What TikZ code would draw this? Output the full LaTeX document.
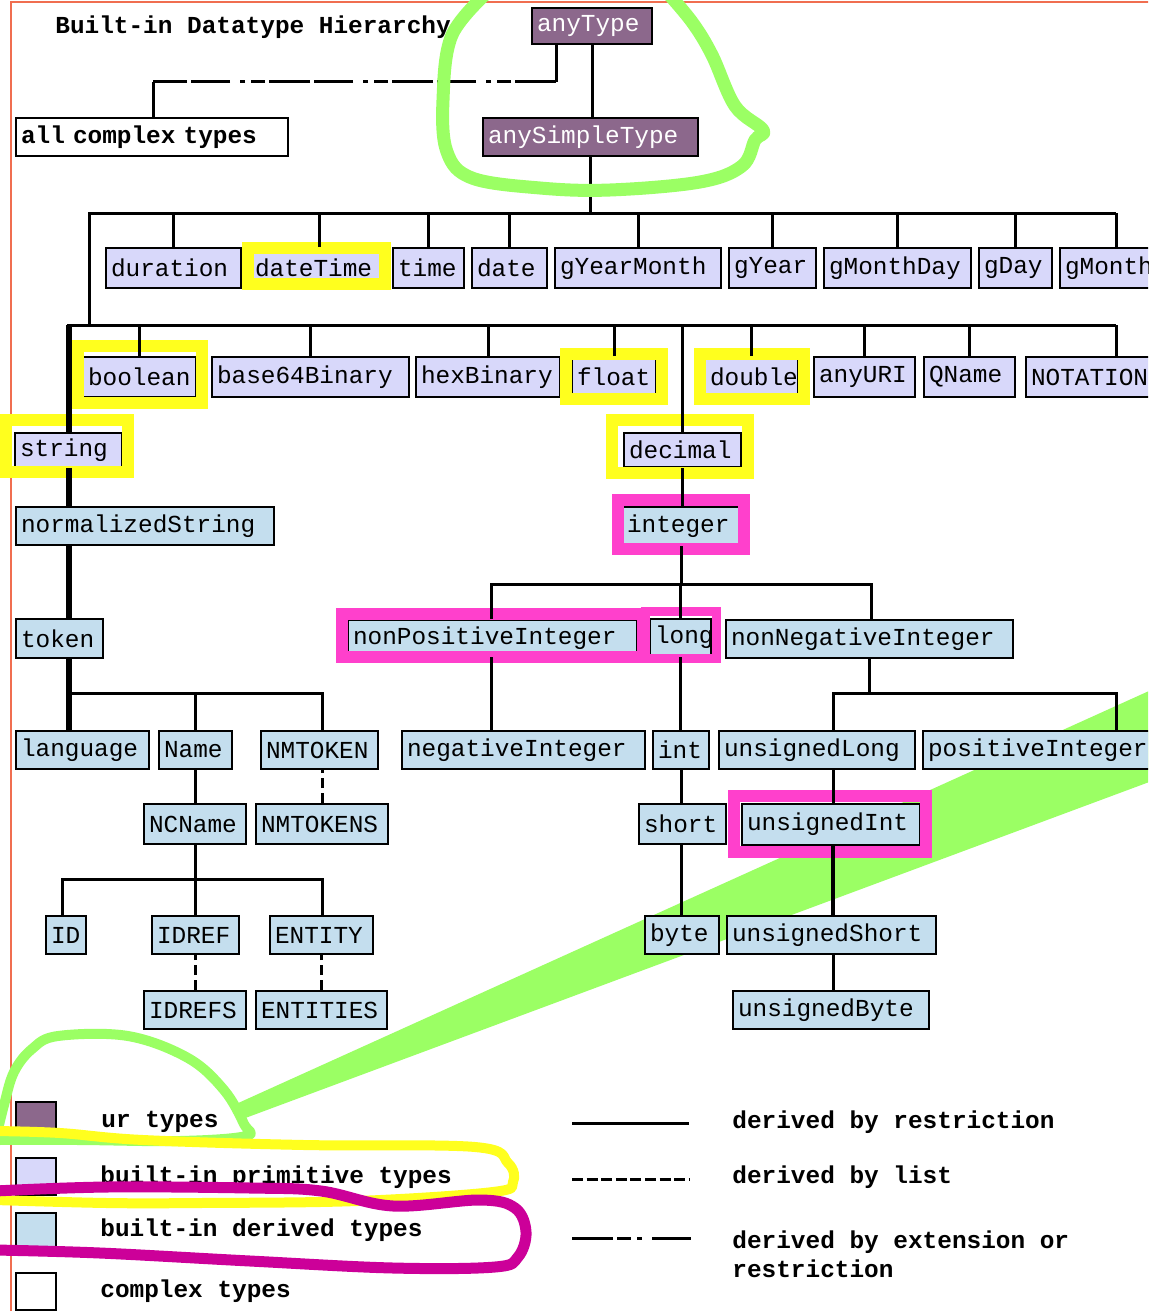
\documentclass[tikz,border=0pt]{standalone}
\usepackage{fontspec}
\newfontfamily\lmono{Liberation Mono}
\usetikzlibrary{calc}
\definecolor{urfill}{RGB}{140,104,140}
\definecolor{primfill}{RGB}{216,216,250}
\definecolor{derfill}{RGB}{196,222,238}
\definecolor{hlyellow}{RGB}{255,255,30}
\definecolor{hlpink}{RGB}{255,64,204}
\definecolor{hlgreen}{RGB}{155,255,100}
\definecolor{hlmag}{RGB}{204,0,153}
\definecolor{frameline}{RGB}{240,110,80}
\newcommand\bx[7]{%
 \pgfmathsetmacro\bw{(#5-#3)*0.5}%
 \pgfmathsetmacro\bh{(#6-#4)*0.5}%
 \pgfmathsetmacro\bcx{(#3+#5)/2}%
 \pgfmathsetmacro\bcy{(#4+#6)/2}%
 \pgfmathsetmacro\btw{\bw-5}%
 \node[#1, minimum width=\bw pt, minimum height=\bh pt, text width=\btw pt] (#2) at (\bcx,\bcy) {#7};}
\newcommand\hlframe[5]{\draw[#1] (#2+6,#3+6) rectangle (#4-6,#5-6);}
\begin{document}
\begin{tikzpicture}[x=0.5pt,y=-0.5pt,
 box/.style={draw=black, line width=1pt, inner xsep=2pt, inner ysep=0pt, align=left,
   font=\lmono\fontsize{12.2}{14}\selectfont},
 urbox/.style={box, fill=urfill, text=white},
 prim/.style={box, fill=primfill},
 der/.style={box, fill=derfill},
 cplx/.style={box, fill=white, font=\lmono\bfseries\fontsize{12.2}{14}\selectfont},
 restr/.style={line width=1.5pt},
 strline/.style={line width=3pt},
 listline/.style={line width=1.5pt, dash pattern=on 5pt off 2.5pt},
 extline/.style={line width=1.5pt, dash pattern=on 20.5pt off 2pt on 7pt off 3pt on 2.5pt off 5pt on 19.5pt off 2pt},
 yframe/.style={draw=hlyellow, line width=6pt},
 pframe/.style={draw=hlpink, line width=6pt},
 legtext/.style={font=\lmono\bfseries\fontsize{12.2}{14.5}\selectfont, anchor=west, inner sep=0pt, align=left},
 loop/.style={line width=#1, line cap=round, line join=round}
]
\useasboundingbox (0,0) rectangle (1148,1311);
\fill[white] (0,0) rectangle (1148,1311);
\clip (0,0) rectangle (1148,1311);

% green wedge (under the diagram)
\fill[hlgreen] (236,1104) -- (1160,686) -- (1160,778) -- (240,1120) -- cycle;

% page border
\draw[frameline, line width=1pt] (11,1320) -- (11,2) -- (1160,2);

% title
\node[legtext] (title) at (55,27) {Built-in Datatype Hierarchy};

% ur types and complex
\bx{urbox}{anyType}{532}{8}{652}{44}{anyType}
\bx{urbox}{anySimpleType}{483}{118}{698}{156}{anySimpleType}
\bx{cplx}{allc}{16}{118}{288}{156}{all complex types}

% primitive row 1
\bx{prim}{duration}{106}{248}{241}{288}{duration}
\bx{prim}{dateTime}{250}{248}{389}{288}{dateTime}
\bx{prim}{time}{393}{248}{464}{288}{time}
\bx{prim}{date}{472}{248}{547}{288}{date}
\bx{prim}{gYearMonth}{555}{248}{721}{288}{gYearMonth}
\bx{prim}{gYear}{729}{248}{816}{288}{gYear}
\bx{prim}{gMonthDay}{824}{248}{971}{288}{gMonthDay}
\bx{prim}{gDay}{979}{248}{1052}{288}{gDay}
\bx{prim}{gMonth}{1060}{248}{1172}{288}{gMonth}

% primitive row 2
\bx{prim}{boolean}{83}{357}{196}{397}{boolean}
\bx{prim}{base64Binary}{212}{357}{409}{397}{base64Binary}
\bx{prim}{hexBinary}{416}{357}{560}{397}{hexBinary}
\bx{prim}{float}{572}{357}{656}{397}{float}
\bx{prim}{double}{705}{357}{798}{397}{double}
\bx{prim}{anyURI}{814}{357}{915}{397}{anyURI}
\bx{prim}{QName}{924}{357}{1015}{397}{QName}
\bx{prim}{NOTATION}{1026}{357}{1206}{397}{NOTATION}
\bx{prim}{string}{15}{433}{122}{467}{string}
\bx{prim}{decimal}{624}{433}{741}{467}{decimal}

% derived
\bx{der}{normalizedString}{16}{507}{274}{545}{normalizedString}
\bx{der}{integer}{622}{507}{740}{545}{integer}
\bx{der}{token}{16}{619}{103}{658}{token}
\bx{der}{nPI}{348}{620}{637}{656}{nonPositiveInteger}
\bx{der, inner xsep=0.5pt}{long}{650}{619}{711}{656}{long}
\bx{der}{nNI}{726}{620}{1013}{658}{nonNegativeInteger}
\bx{der}{language}{16}{731}{149}{769}{language}
\bx{der}{Name}{159}{731}{232}{769}{Name}
\bx{der}{NMTOKEN}{261}{731}{378}{769}{NMTOKEN}
\bx{der}{negativeInteger}{402}{731}{645}{769}{negativeInteger}
\bx{der}{int}{653}{731}{709}{769}{int}
\bx{der}{unsignedLong}{719}{731}{915}{769}{unsignedLong}
\bx{der}{positiveInteger}{923}{731}{1160}{769}{positiveInteger}
\bx{der}{NCName}{144}{804}{246}{844}{NCName}
\bx{der}{NMTOKENS}{256}{804}{388}{844}{NMTOKENS}
\bx{der}{short}{639}{804}{726}{844}{short}
\bx{der}{unsignedInt}{742}{804}{920}{845}{unsignedInt}
\bx{der}{ID}{46}{916}{86}{954}{ID}
\bx{der}{IDREF}{152}{916}{239}{954}{IDREF}
\bx{der}{ENTITY}{270}{916}{373}{954}{ENTITY}
\bx{der}{byte}{645}{916}{719}{954}{byte}
\bx{der}{unsignedShort}{727}{916}{936}{954}{unsignedShort}
\bx{der}{IDREFS}{144}{991}{246}{1029}{IDREFS}
\bx{der}{ENTITIES}{256}{991}{387}{1029}{ENTITIES}
\bx{der}{unsignedByte}{733}{991}{929}{1029}{unsignedByte}

% highlight frames
\hlframe{yframe}{242}{242}{391}{290}
\hlframe{yframe}{72}{340}{208}{409}
\hlframe{yframe}{0}{414}{134}{478}
\hlframe{yframe}{560}{348}{668}{405}
\hlframe{yframe}{694}{348}{810}{405}
\hlframe{yframe}{606}{414}{754}{479}
\hlframe{pframe}{612}{494}{750}{555}
\hlframe{pframe}{336}{608}{649}{663}
\draw[draw=hlpink, line width=4.5pt] (645,611) rectangle (716.5,658);
\hlframe{pframe}{728}{790}{932}{858}

% connectors
\coordinate (e1) at (556,82);
\coordinate (e2) at (153,82);
\draw[restr] (anyType.south) -- (anyType.south |- anySimpleType.north);
\draw[restr] (anyType.south -| e1) -- (e1);
\draw[extline] (e1) -- (e2);
\draw[restr] (e2) -- (e2 |- allc.north);

\coordinate (b1L) at (89,213);
\coordinate (b1R) at (1116,213);
\coordinate (b2L) at (67,325);
\coordinate (b2R) at (1116,325);
\draw[restr] (anySimpleType.south) -- (anySimpleType.south |- b1L);
\draw[restr] (b1R) -- (b1L) -- (b1L |- b2L);
\foreach \c in {duration,dateTime,time,date,gYearMonth,gYear,gMonthDay,gDay,gMonth}
  \draw[restr] (\c.north) -- (\c.north |- b1L);
\draw[restr] (b2L) -- (b2R);
\foreach \c in {boolean,base64Binary,hexBinary,float,double,anyURI,QName,NOTATION,decimal}
  \draw[restr] (\c.north) -- (\c.north |- b2L);

% string chain (thick)
\draw[strline] (string.north |- b2L) -- (string.north);
\draw[strline] (string.south) -- (string.south |- normalizedString.north);
\draw[strline] (string.south |- normalizedString.south) -- (string.south |- token.north);
\draw[strline] (string.south |- token.south) -- (string.south |- language.north);
\coordinate (b3L) at (69,693);
\coordinate (b3R) at (322,693);
\draw[restr] (b3L) -- (b3R) -- (b3R |- NMTOKEN.north);
\draw[restr] (Name.north) -- (Name.north |- b3L);
\draw[listline] (NMTOKENS.north) -- (NMTOKENS.north |- NMTOKEN.south);
\draw[restr] (Name.south) -- (Name.south |- NCName.north);
\coordinate (b4L) at (62,879);
\coordinate (b4R) at (322,879);
\draw[restr] (NCName.south) -- (NCName.south |- b4L);
\draw[restr] (b4L |- ID.north) -- (b4L) -- (b4R) -- (b4R |- ENTITY.north);
\draw[restr] (IDREF.north) -- (IDREF.north |- b4L);
\draw[listline] (IDREFS.north) -- (IDREFS.north |- IDREF.south);
\draw[listline] (ENTITIES.north) -- (ENTITIES.north |- ENTITY.south);

% decimal chain
\draw[restr] (decimal.south) -- (decimal.south |- integer.north);
\coordinate (b5L) at (491,584);
\coordinate (b5R) at (871,584);
\draw[restr] (integer.south) -- (integer.south |- b5L);
\draw[restr] (b5L |- nPI.north) -- (b5L) -- (b5R) -- (b5R |- nNI.north);
\draw[restr] (long.north) -- (long.north |- b5L);
\draw[restr] (b5L |- nPI.south) -- (b5L |- negativeInteger.north);
\draw[restr] (long.south) -- (long.south |- int.north);
\draw[restr] (int.south) -- (int.south |- short.north);
\draw[restr] (int.south |- short.south) -- (int.south |- byte.north);
\coordinate (b6L) at (833,693);
\coordinate (b6R) at (1116,693);
\draw[restr] (nNI.south) -- (nNI.south |- b6L);
\draw[restr] (b6L |- unsignedLong.north) -- (b6L) -- (b6R) -- (b6R |- positiveInteger.north);
\draw[restr] (b6L |- unsignedLong.south) -- (b6L |- unsignedInt.north);
\draw[line width=2.3pt] (b6L |- unsignedInt.south) -- (b6L |- unsignedShort.north);
\draw[restr] (b6L |- unsignedShort.south) -- (b6L |- unsignedByte.north);

% legend
\bx{urbox}{lgur}{16}{1102}{56}{1139}{}
\bx{prim}{lgprim}{16}{1158}{56}{1195}{}
\bx{der}{lgder}{16}{1213}{56}{1250}{}
\bx{cplx}{lgcplx}{16}{1273}{56}{1310}{}
\node[legtext] (tur) at (101,1122) {ur types};
\node[legtext] (tprim) at (100,1177) {built-in primitive types};
\node[legtext] (tder) at (100,1230) {built-in derived types};
\node[legtext] (tcplx) at (100,1291) {complex types};
\coordinate (l1a) at (572,1123); \coordinate (l1b) at (689,1123);
\coordinate (l2a) at (572,1179); \coordinate (l2b) at (689,1179);
\coordinate (l3a) at (572,1238); \coordinate (l3b) at (691,1238);
\draw[restr] (l1a) -- (l1b);
\draw[listline, dash pattern=on 5.5pt off 1.8pt] (l2a) -- (l2b);
\draw[extline] (l3a) -- (l3b);
\node[legtext] (trestr) at (732,1122) {derived by restriction};
\node[legtext] (tlist) at (732,1177) {derived by list};
\node[legtext] (text) at (732,1254) {derived by extension or\\restriction};

% hand-drawn annotation loops
\draw[hlgreen, loop=6.5pt] plot[smooth, tension=0.6] coordinates {(490,-10) (452,35) (443,100) (447,152) (472,178) (540,188) (610,190) (700,182) (742,166) (755,140) (763,130) (735,106) (712,55) (692,22) (665,-10)};
\draw[hlgreen, loop=5pt] plot[smooth, tension=0.6] coordinates {(-5,1142) (4,1105) (14,1072) (32,1049) (58,1036) (128,1036) (188,1058) (224,1090) (244,1124) (246,1136) (180,1141) (80,1140) (-5,1140)};
\draw[hlyellow, loop=5pt] plot[smooth, tension=0.6] coordinates {(-5,1131) (60,1133) (143,1140) (304,1145) (475,1147) (508,1163) (513,1182) (493,1192) (357,1201) (200,1203) (107,1203) (-5,1200)};
\draw[hlmag, loop=5.5pt] plot[smooth, tension=0.6] coordinates {(-5,1191) (107,1187) (250,1188) (321,1191) (393,1206) (480,1200) (515,1208) (526,1232) (518,1257) (495,1267) (393,1268) (250,1261) (100,1253) (-5,1250)};
\end{tikzpicture}
\end{document}
